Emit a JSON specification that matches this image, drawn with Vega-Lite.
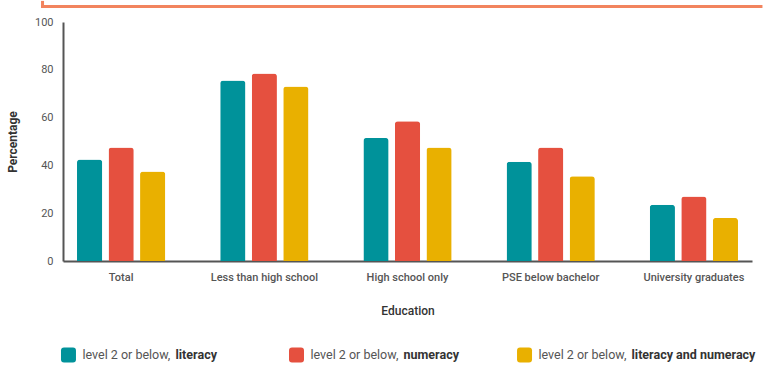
{
  "$schema": "https://vega.github.io/schema/vega-lite/v6.json",
  "background": "white",
  "padding": {"top": 0, "left": 6, "right": 0, "bottom": 0},
  "config": {
    "font": "Roboto",
    "view": {"stroke": null},
    "axis": {
      "domainColor": "#555555",
      "domainWidth": 2,
      "ticks": false,
      "grid": false,
      "labelColor": "#555555",
      "labelFont": "Roboto",
      "labelFontSize": 11,
      "titleFont": "Roboto",
      "titleColor": "#333333"
    }
  },
  "datasets": {
    "bars": [
      {"education": "Total", "series": "literacy", "pct": 42.5},
      {"education": "Total", "series": "numeracy", "pct": 47.5},
      {"education": "Total", "series": "literacy and numeracy", "pct": 37.5},
      {"education": "Less than high school", "series": "literacy", "pct": 75.5},
      {"education": "Less than high school", "series": "numeracy", "pct": 78.5},
      {"education": "Less than high school", "series": "literacy and numeracy", "pct": 73},
      {"education": "High school only", "series": "literacy", "pct": 51.5},
      {"education": "High school only", "series": "numeracy", "pct": 58.5},
      {"education": "High school only", "series": "literacy and numeracy", "pct": 47.5},
      {"education": "PSE below bachelor", "series": "literacy", "pct": 41.5},
      {"education": "PSE below bachelor", "series": "numeracy", "pct": 47.5},
      {"education": "PSE below bachelor", "series": "literacy and numeracy", "pct": 35.5},
      {"education": "University graduates", "series": "literacy", "pct": 23.5},
      {"education": "University graduates", "series": "numeracy", "pct": 27},
      {"education": "University graduates", "series": "literacy and numeracy", "pct": 18}
    ],
    "keys": [
      {"series": "literacy", "prefix": "level 2 or below,", "measure": "literacy"},
      {"series": "numeracy", "prefix": "level 2 or below,", "measure": "numeracy"},
      {"series": "literacy and numeracy", "prefix": "level 2 or below,", "measure": "literacy and numeracy"}
    ],
    "box": [{"edge": "header box"}]
  },
  "spacing": 31,
  "vconcat": [
    {
      "width": 689,
      "height": 239,
      "resolve": {"scale": {"x": "independent"}, "axis": {"x": "independent"}},
      "layer": [
        {
          "data": {"name": "bars"},
          "mark": {"type": "bar", "cornerRadiusTopLeft": 3, "cornerRadiusTopRight": 3},
          "encoding": {
            "x": {
              "field": "education",
              "type": "nominal",
              "sort": ["Total", "Less than high school", "High school only", "PSE below bachelor", "University graduates"],
              "scale": {"paddingInner": 0.3, "paddingOuter": 0.056},
              "axis": {
                "title": "Education",
                "labelAngle": 0,
                "labelPadding": 10,
                "labelFontWeight": 500,
                "titlePadding": 23,
                "titleFontSize": 12,
                "titleFontWeight": 500
              }
            },
            "xOffset": {
              "field": "series",
              "type": "nominal",
              "sort": ["literacy", "numeracy", "literacy and numeracy"],
              "scale": {"paddingInner": 0.2, "paddingOuter": 0.19}
            },
            "y": {
              "field": "pct",
              "type": "quantitative",
              "scale": {"domain": [0, 100], "nice": false},
              "axis": {
                "title": "Percentage",
                "values": [0, 20, 40, 60, 80, 100],
                "labelPadding": 10,
                "titlePadding": 15,
                "titleFontSize": 12,
                "titleFontWeight": "bold"
              }
            },
            "color": {
              "field": "series",
              "type": "nominal",
              "scale": {
                "domain": ["literacy", "numeracy", "literacy and numeracy"],
                "range": ["#00929a", "#e5503f", "#e9b000"]
              },
              "legend": null
            }
          }
        },
        {
          "description": "bottom edge of the header box above the chart",
          "data": {"name": "box"},
          "mark": {"type": "rule", "color": "#f2845e", "strokeWidth": 3, "strokeCap": "square"},
          "encoding": {
            "x": {"datum": -0.0297, "type": "quantitative", "scale": {"domain": [0, 1]}, "axis": null},
            "x2": {"datum": 1.013},
            "y": {"datum": 106.5, "type": "quantitative"}
          }
        },
        {
          "description": "left edge of the header box",
          "data": {"name": "box"},
          "mark": {"type": "rule", "color": "#f2845e", "strokeWidth": 3, "strokeCap": "square"},
          "encoding": {
            "x": {"datum": -0.0297, "type": "quantitative", "scale": {"domain": [0, 1]}, "axis": null},
            "y": {"datum": 106.5, "type": "quantitative"},
            "y2": {"datum": 108.2}
          }
        }
      ]
    },
    {
      "width": 467,
      "height": 16,
      "data": {"name": "keys"},
      "encoding": {
        "x": {
          "field": "series",
          "type": "nominal",
          "sort": ["literacy", "numeracy", "literacy and numeracy"],
          "scale": {"type": "point", "padding": 0.024},
          "axis": null
        }
      },
      "layer": [
        {
          "mark": {
            "type": "point",
            "filled": true,
            "opacity": 1,
            "size": 225,
            "shape": "M-0.6,-1H0.6Q1,-1,1,-0.6V0.6Q1,1,0.6,1H-0.6Q-1,1,-1,0.6V-0.6Q-1,-1,-0.6,-1Z"
          },
          "encoding": {
            "color": {"field": "series", "type": "nominal", "legend": null}
          }
        },
        {
          "mark": {"type": "text", "align": "left", "baseline": "middle", "dx": 14, "fontSize": 12.5, "color": "#555555"},
          "encoding": {"text": {"field": "prefix"}}
        },
        {
          "mark": {"type": "text", "align": "left", "baseline": "middle", "dx": 107, "fontSize": 12.5, "fontWeight": "bold", "color": "#333333"},
          "encoding": {"text": {"field": "measure"}}
        }
      ]
    }
  ]
}
